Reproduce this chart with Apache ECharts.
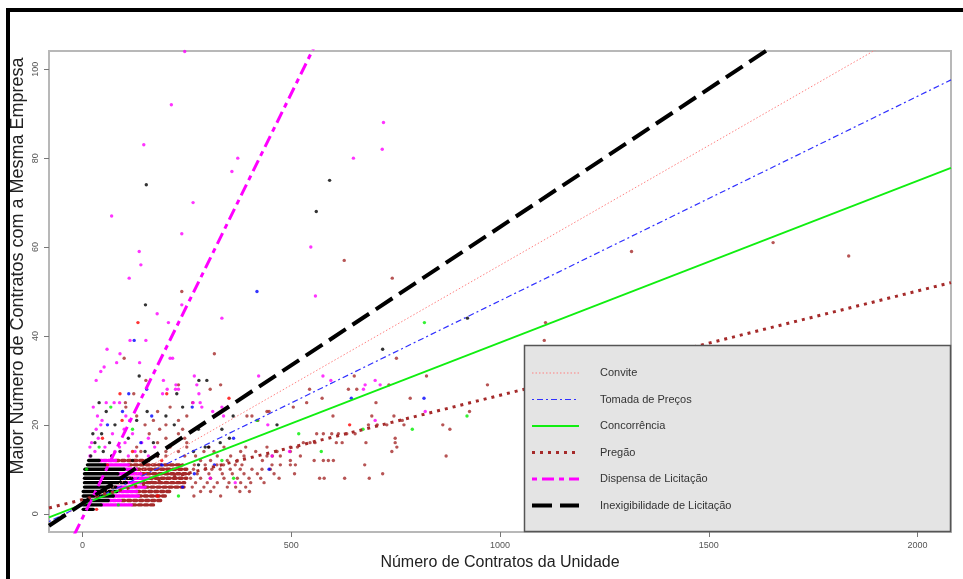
<!DOCTYPE html>
<html>
<head>
<meta charset="utf-8">
<script src="https://cdn.jsdelivr.net/npm/echarts@6/dist/echarts.min.js"></script>
<style>
  html, body { margin: 0; padding: 0; background: #fff; }
  #chart { width: 963px; height: 579px; }
</style>
</head>
<body>
<div id="chart"></div>
<script>
// eixos
var xTicks = [0, 500, 1000, 1500, 2000];
var yTicks = [0, 20, 40, 60, 80, 100];
var seriesNames = ['Convite', 'Tomada de Preços', 'Concorrência', 'Pregão', 'Dispensa de Licitação', 'Inexigibilidade de Licitação'];

// pontos por modalidade [contratos da unidade, maior nº com mesma empresa]
var convitePts = [[133,43],[90,27],[202,27],[351,26],[640,20],[34,1],[48,17],[120,14],[190,12],[95,21],[60,11],[150,9],[180,4]];
var tomadaPts = [[418,50],[124,39],[111,27],[154,28],[644,26],[818,26],[96,23],[166,22],[263,24],[60,20],[140,16],[190,11],[240,6],[100,8],[268,9],[316,11],[447,10],[362,17]];
var concorrenciaPts = [[819,43],[921,22],[790,19],[672,19],[572,14],[518,18],[68,24],[230,4],[418,21],[334,12],[362,8],[10,10],[86,2],[40,15],[120,19]];
var pregaoPts = [
  [238,50],[627,57],[742,53],[100,35],[152,30],[230,29],[123,27],[316,36],[331,29],[306,28],[394,22],[406,22],[442,23],[447,23],[420,21],[600,22],
  [651,31],[544,28],[505,24],[537,25],[574,26],[637,28],[657,28],[703,25],[693,22],[685,20],[706,20],[729,20],[1315,59],[1106,39],[1109,43],
  [752,35],[824,31],[734,29],[970,29],[785,26],[927,23],[746,22],[766,21],[770,20],[863,20],[880,19],[749,17],[749,16],[753,15],[741,14],[871,13],[719,9],
  [1654,61],[1835,58],
  [561,18],[577,18],[597,18],[613,18],[633,18],[653,18],
  [529,16],[545,16],[557,16],[608,16],[622,16],[679,16],
  [498,15],[515,15],[303,15],[339,15],[391,15],[442,15],
  [466,14],[291,14],[315,14],[379,14],[415,14],[498,14],
  [442,13],[455,13],[474,13],[271,13],[323,13],[355,13],[387,13],[522,13],
  [555,12],[577,12],[589,12],[601,12],[283,12],[307,12],[347,12],[371,12],[431,12],[498,12],
  [676,11],[268,11],[294,11],[322,11],[338,11],[366,11],[382,11],[454,11],[474,11],[498,11],[510,11],
  [266,10],[294,10],[310,10],[330,10],[354,10],[378,10],[406,10],[430,10],[450,10],
  [508,9],[275,9],[303,9],[335,9],[359,9],[387,9],[419,9],[459,9],
  [568,8],[579,8],[628,8],[687,8],[259,8],[283,8],[307,8],[339,8],[371,8],[399,8],[427,8],[471,8],
  [271,7],[299,7],[323,7],[351,7],[379,7],[403,7],[435,7],
  [263,6],[291,6],[315,6],[347,6],[367,6],[391,6],
  [283,5],[307,5],[377,5],[400,5],[267,4],[331,4],
  [130,13],[180,13],[200,13],[245,13],[140,14],[200,14],[230,14],[130,15],[210,15],[250,15],[180,16],[220,16],[250,16],
  [200,17],[245,17],[160,18],[230,18],[185,19],[240,19],[150,20],[200,20],[170,21],[230,21],[130,22],[250,22],[180,23],
  [104,24],[210,24],[103,25],[264,25]
];
var dispensaPts = [
  [245,104],[213,92],[147,83],[372,80],[358,77],[265,70],[70,67],[238,63],[136,59],[140,56],[112,53],[721,88],[718,82],[649,80],
  [547,60],[558,49],[238,47],[179,45],[206,43],[114,39],[152,39],[59,37],[90,36],[82,34],[137,34],[210,35],[216,35],[52,33],[44,32],
  [33,30],[194,30],[268,31],[224,29],[274,29],[203,28],[223,28],[192,27],[57,25],[334,44],[279,27],[265,25],[282,25],[286,24],[334,24],
  [312,23],[338,22],[444,20],[422,31],[576,31],[595,30],[673,28],[677,29],[701,30],[701,21],[713,29],[821,23],[230,28],
  [454,13],[496,14],[366,7],[306,8],
  [26,24],[76,25],[89,25],[36,22],[104,22],[47,21],[113,21],[44,20],[33,19],[100,19],[72,18],[120,18],[38,17],[158,17],
  [22,16],[102,16],[142,16],[18,15],[54,15],[89,15],[173,15],[30,14],[78,14],[126,14],[18,13],[70,13],[110,13],[158,13]
];
var inexPts = [
  [153,74],[592,75],[560,68],[151,47],[136,31],[226,27],[40,25],[298,30],[279,30],[361,22],[466,20],[719,37],[922,44],
  [278,19],[334,19],[352,17],[294,15],[302,15],[330,16],[266,14],[278,11],
  [57,23],[78,20],[25,18],[46,18],[155,23],[130,21],[200,22],[30,16],[65,16],[110,17],[170,16],[220,20],[240,24],
  [50,14],[90,14],[150,14],[20,13],[70,13],[120,12],[180,13]
];

// faixas densas [y, x inicial, x final]
var inexBands = [[1,2,26],[2,2,45],[3,2,62],[4,2,74],[5,2,82],[6,5,80],[7,5,105],[8,5,118],[9,5,85],[10,6,100],[11,12,55],[12,15,40]];
var dispensaBands = [[2,45,120],[3,62,94],[4,74,134],[5,82,130],[6,80,150],[7,105,140],[8,118,160],[9,85,140],[10,100,130],[11,55,110],[12,40,80]];
var pregaoBands = [[2,120,175],[3,94,190],[4,134,200],[5,130,215],[6,150,250],[7,140,245],[8,160,250],[9,140,255],[10,130,250],[11,110,240],[12,80,160]];

// retas ajustadas (extremos)
var fitConvite = [[-80,-2.3],[2080,114.1]];
var fitTomada = [[-80,-1.75],[2080,97.6]];
var fitConcorrencia = [[-80,-0.8],[2080,77.8]];
var fitPregao = [[-80,1.3],[2080,52.0]];
var fitDispensa = [[-30,-6.7],[600,113.6]];
var fitInex = [[-80,-2.7],[2080,131.7]];

var colors = ['#ff0000', '#0000ff', '#00ee00', '#a52a2a', '#ff00ff', '#000000'];
var lineColors = ['#ff8080', '#3030ff', '#10ee10', '#a52a2a', '#ff00ff', '#000000'];
var lineWidths = [1, 1.2, 1.8, 3, 3, 4];
var lineDashes = [[1.5, 2], [2, 3, 6, 3], null, [3, 5], [5, 5, 12, 5], [20, 8]];

var chart = echarts.init(document.getElementById('chart'));

function scatter(name, data, color) {
    return {
        name: name, type: 'scatter', data: data, symbol: 'circle', symbolSize: 3.4,
        itemStyle: { color: color }, z: 2, silent: true, animation: false
    };
}
function bands(data, color, dash) {
    return {
        type: 'custom', data: data, encode: { x: [1, 2], y: 0 }, z: 2, silent: true, animation: false, clip: true,
        renderItem: function (params, api) {
            var p1 = api.coord([api.value(1), api.value(0)]);
            var p2 = api.coord([api.value(2), api.value(0)]);
            return {
                type: 'line',
                shape: { x1: p1[0], y1: p1[1], x2: p2[0], y2: p2[1] },
                style: { stroke: color, lineWidth: 3.4, lineDash: dash, lineCap: 'round' }
            };
        }
    };
}
function fit(i, data) {
    return {
        name: seriesNames[i], type: 'line', data: data, showSymbol: false, clip: true, z: 4, silent: true, animation: false,
        lineStyle: { color: lineColors[i], width: lineWidths[i], type: lineDashes[i] || 'solid' }
    };
}

// legenda desenhada à mão, como no original
var legendItems = [];
var legendY = [373, 399.5, 426, 452.5, 479, 505.5];
for (var i = 0; i < seriesNames.length; i++) {
    legendItems.push({
        type: 'line', shape: { x1: 532, y1: legendY[i], x2: 579, y2: legendY[i] },
        style: { stroke: lineColors[i], lineWidth: lineWidths[i], lineDash: lineDashes[i] }, z: 101
    });
    legendItems.push({
        type: 'text', x: 600, y: legendY[i],
        style: { text: seriesNames[i], fill: '#333', font: '11px "Liberation Sans", Arial', verticalAlign: 'middle' }, z: 101
    });
}

chart.setOption({
    animation: false,
    grid: { left: 49, top: 51, right: 12, bottom: 47, show: true, borderColor: '#b8b8b8', borderWidth: 2, backgroundColor: 'transparent' },
    xAxis: {
        type: 'value', min: -80, max: 2080,
        splitLine: { show: false },
        axisLine: { show: true, onZero: false, lineStyle: { color: '#b8b8b8', width: 2 } },
        axisTick: { show: true, customValues: xTicks, length: 5, lineStyle: { color: '#777', width: 1 } },
        axisLabel: { customValues: xTicks, formatter: function (v) { return String(v); }, color: '#555', fontSize: 9, fontFamily: 'Liberation Sans', margin: 9 }
    },
    yAxis: {
        type: 'value', min: -4.1, max: 104.1,
        splitLine: { show: false },
        axisLine: { show: true, onZero: false, lineStyle: { color: '#b8b8b8', width: 2 } },
        axisTick: { show: true, customValues: yTicks, length: 5, lineStyle: { color: '#777', width: 1 } },
        axisLabel: { customValues: yTicks, formatter: function (v) { return String(v); }, rotate: 90, color: '#555', fontSize: 9, fontFamily: 'Liberation Sans', margin: 9 }
    },
    graphic: [
        { type: 'rect', shape: { x: 6, y: 8, width: 957, height: 4 }, style: { fill: '#000' }, z: 100 },
        { type: 'rect', shape: { x: 6, y: 8, width: 4, height: 571 }, style: { fill: '#000' }, z: 100 },
        { type: 'text', x: 500, y: 563,
          style: { text: 'Número de Contratos da Unidade', fill: '#222', font: '16px "Liberation Sans", Arial', align: 'center', verticalAlign: 'middle' }, z: 100 },
        { type: 'text', x: 18, y: 266, rotation: Math.PI / 2,
          style: { text: 'Maior Número de Contratos com a Mesma Empresa', fill: '#222', font: '18px "Liberation Sans", Arial', align: 'center', verticalAlign: 'middle' }, z: 100 },
        { type: 'rect', shape: { x: 524.5, y: 345.5, width: 426, height: 186 }, style: { fill: '#e4e4e4', stroke: '#555', lineWidth: 1.5 }, z: 100 }
    ].concat(legendItems),
    series: [
        bands(pregaoBands, colors[3], [3, 3]),
        bands(dispensaBands, colors[4], [3, 1.5]),
        bands(inexBands, colors[5], null),
        scatter(seriesNames[3], pregaoPts, colors[3]),
        scatter(seriesNames[4], dispensaPts, colors[4]),
        scatter(seriesNames[5], inexPts, colors[5]),
        scatter(seriesNames[0], convitePts, colors[0]),
        scatter(seriesNames[1], tomadaPts, colors[1]),
        scatter(seriesNames[2], concorrenciaPts, colors[2]),
        fit(0, fitConvite),
        fit(1, fitTomada),
        fit(2, fitConcorrencia),
        fit(3, fitPregao),
        fit(4, fitDispensa),
        fit(5, fitInex)
    ]
});
</script>
</body>
</html>
